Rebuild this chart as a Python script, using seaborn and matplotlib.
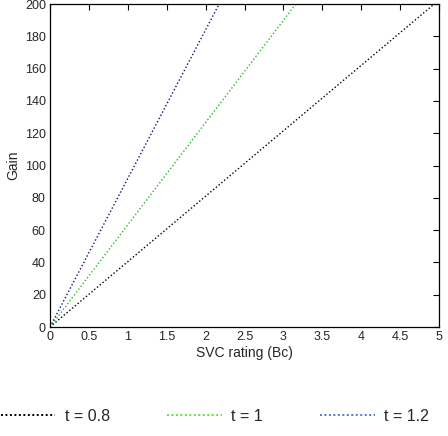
import pandas as pd
import matplotlib.pyplot as plt
from matplotlib.lines import Line2D
import seaborn as sns

# values (gain grows linearly with SVC rating)
svc_rating = [0, 1, 2, 3, 4, 5]
gain_t08 = [0, 40.5, 81, 121.5, 162, 202.5]
gain_t10 = [0, 63.3, 126.6, 189.9, 253.2, 316.5]
gain_t12 = [0, 92.0, 184.0, 276.0, 368.0, 460.0]
labels = ['t = 0.8', 't = 1', 't = 1.2']
line_colors = ['#000000', '#22bb22', '#1a0a7a']
legend_colors = ['#000000', '#66dd44', '#4a7ad0']
x_ticks = [0, 0.5, 1, 1.5, 2, 2.5, 3, 3.5, 4, 4.5, 5]
y_ticks = [0, 20, 40, 60, 80, 100, 120, 140, 160, 180, 200]


def main():
    sns.set_style("white")
    plt.rcParams['font.family'] = ['Liberation Sans', 'DejaVu Sans']

    df = pd.DataFrame({
        'SVC rating': svc_rating * 3,
        'Gain': gain_t08 + gain_t10 + gain_t12,
        't': [labels[0]] * 6 + [labels[1]] * 6 + [labels[2]] * 6,
    })

    fig = plt.figure(figsize=(4.48, 4.36), dpi=100)
    ax = fig.add_axes([0.1116, 0.25, 0.8684, 0.7408])

    for lab, col in zip(labels, line_colors):
        sub = df[df['t'] == lab]
        sns.lineplot(data=sub, x='SVC rating', y='Gain', color=col, ax=ax,
                     linewidth=1.0, linestyle=(0, (1, 1.6)), legend=False)

    ax.set_xlim(0, 5)
    ax.set_ylim(0, 200)
    ax.set_xticks(x_ticks)
    ax.set_xticklabels(['0', '0.5', '1', '1.5', '2', '2.5', '3', '3.5', '4', '4.5', '5'])
    ax.set_yticks(y_ticks)
    ax.tick_params(direction='in', length=4, width=0.8, labelsize=9,
                   top=True, right=True, color='black', pad=3)
    for s in ax.spines.values():
        s.set_color('black')
        s.set_linewidth(0.9)
    ax.set_xlabel('SVC rating (Bc)', fontsize=10, labelpad=2)
    ax.set_ylabel('Gain', fontsize=10, labelpad=3)

    handles = [Line2D([], [], color=c, linewidth=1.4, linestyle=(0, (1, 1.3)))
               for c in legend_colors]
    fig.legend(handles, labels, loc='center', bbox_to_anchor=(0.48, 0.045),
               ncol=3, frameon=False, fontsize=11.5, handlelength=3.4,
               handletextpad=0.6, columnspacing=3.6)

    fig.savefig('out.png', dpi=100)
    plt.close(fig)


if __name__ == "__main__":
    main()
